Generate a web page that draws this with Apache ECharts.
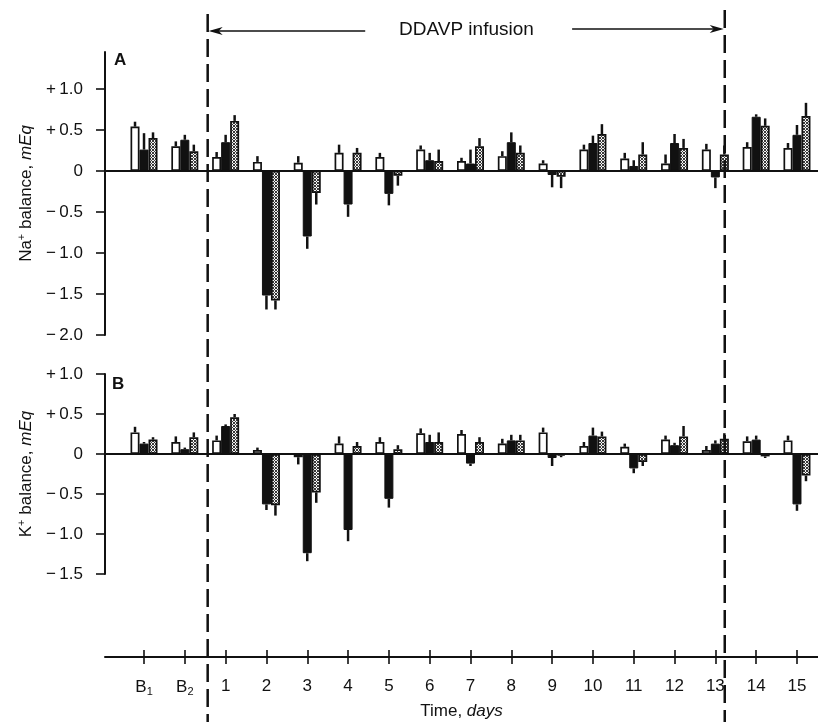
<!DOCTYPE html>
<html>
<head>
<meta charset="utf-8">
<script src="https://cdn.jsdelivr.net/npm/echarts@6/dist/echarts.min.js"></script>
<style>
html,body{margin:0;padding:0;background:#fff;}
#chart{width:818px;height:722px;}
</style>
</head>
<body>
<div id="chart"></div>
<script>
// ---------- data ----------
const categories = ['B1','B2','1','2','3','4','5','6','7','8','9','10','11','12','13','14','15'];

// Panel A: Na+ balance (mEq)
const naOpen      = [0.54, 0.30, 0.17, 0.11, 0.10, 0.22, 0.17, 0.26, 0.12, 0.18, 0.09, 0.26, 0.15, 0.09, 0.26, 0.29, 0.28];
const naOpenErr   = [0.06, 0.06, 0.06, 0.07, 0.08, 0.10, 0.05, 0.05, 0.04, 0.06, 0.04, 0.06, 0.07, 0.11, 0.07, 0.06, 0.06];
const naSolid     = [0.26, 0.38, 0.35, -1.52, -0.80, -0.41, -0.28, 0.13, 0.09, 0.35, -0.05, 0.34, 0.06, 0.34, -0.08, 0.66, 0.44];
const naSolidErr  = [0.20, 0.06, 0.09, 0.17, 0.15, 0.15, 0.14, 0.09, 0.17, 0.12, 0.15, 0.09, 0.07, 0.11, 0.13, 0.03, 0.12];
const naDotted    = [0.40, 0.24, 0.61, -1.58, -0.27, 0.22, -0.06, 0.12, 0.30, 0.22, -0.07, 0.45, 0.20, 0.28, 0.20, 0.55, 0.67];
const naDottedErr = [0.07, 0.08, 0.07, 0.11, 0.14, 0.06, 0.12, 0.14, 0.10, 0.09, 0.14, 0.12, 0.15, 0.11, 0.11, 0.09, 0.16];

// Panel B: K+ balance (mEq)
const kOpen      = [0.27, 0.15, 0.17, 0.05, -0.04, 0.13, 0.15, 0.26, 0.25, 0.13, 0.27, 0.10, 0.09, 0.18, 0.05, 0.16, 0.17];
const kOpenErr   = [0.07, 0.07, 0.06, 0.03, 0.09, 0.09, 0.06, 0.06, 0.05, 0.06, 0.06, 0.05, 0.04, 0.05, 0.05, 0.06, 0.06];
const kSolid     = [0.13, 0.06, 0.35, -0.63, -1.24, -0.95, -0.56, 0.15, -0.12, 0.17, -0.05, 0.23, -0.18, 0.11, 0.13, 0.18, -0.63];
const kSolidErr  = [0.02, 0.02, 0.02, 0.07, 0.10, 0.14, 0.11, 0.09, 0.03, 0.07, 0.10, 0.10, 0.06, 0.03, 0.04, 0.05, 0.08];
const kDotted    = [0.18, 0.21, 0.46, -0.64, -0.48, 0.10, 0.06, 0.15, 0.15, 0.17, -0.02, 0.22, -0.10, 0.22, 0.19, -0.03, -0.27];
const kDottedErr = [0.03, 0.06, 0.04, 0.13, 0.13, 0.05, 0.05, 0.12, 0.06, 0.07, 0.02, 0.06, 0.05, 0.13, 0.07, 0.02, 0.07];

// tick values
const naTicks = [-2, -1.5, -1, -0.5, 0, 0.5, 1];
const kTicks  = [-1.5, -1, -0.5, 0, 0.5, 1];
const dayTicks = categories.map((c, i) => i);

// DDAVP infusion period, in category units (B1 = 0)
const infusionStart = 1.56;
const infusionEnd = 14.23;
const arrowTailLeft = 5.42;
const arrowTailRight = 10.49;
const infusionLabelAt = 7.9;

// ---------- styles ----------
const FONT = '"Liberation Sans", Arial, Helvetica, sans-serif';
const INK = '#111';
const X_MIN = -0.956, X_MAX = 16.515;
const BAR_W = 9;

const pc = document.createElement('canvas');
pc.width = 3; pc.height = 3;
const g = pc.getContext('2d');
g.fillStyle = '#3a3a3a'; g.fillRect(0, 0, 3, 3);
g.fillStyle = '#f4f4f4';
[[0,1],[1,0],[1,2],[2,1]].forEach(p => g.fillRect(p[0], p[1], 1, 1));

const openStyle = {color: '#fff', borderColor: INK, borderWidth: 1.7};
const solidStyle = {color: INK, borderColor: INK, borderWidth: 1};
const dottedStyle = {color: {image: pc, repeat: 'repeat'}, borderColor: INK, borderWidth: 1.7};

function bars(ai, vals, style) {
  return {
    type: 'bar', xAxisIndex: ai, yAxisIndex: ai,
    data: vals.map((v, i) => [i, v]),
    barWidth: BAR_W, barGap: '0%', itemStyle: style, silent: true, z: 3
  };
}
function errs(ai, vals, e, offset) {
  return {
    type: 'custom', xAxisIndex: ai, yAxisIndex: ai, silent: true, z: 2,
    encode: {x: 0, y: 1},
    data: vals.map((v, i) => [i, v, e[i]]),
    renderItem: function (params, api) {
      const x = api.value(0), y = api.value(1), d = api.value(2);
      const p0 = api.coord([x, y]);
      const p1 = api.coord([x, y >= 0 ? y + d : y - d]);
      const px = p0[0] + offset;
      return {type: 'line', shape: {x1: px, y1: p0[1], x2: px, y2: p1[1]},
              style: {stroke: INK, lineWidth: 2.5}};
    }
  };
}
function signed(v) {
  if (v === 0) return '0';
  return (v > 0 ? '+' : '\u2212') + '\u2009' + Math.abs(v).toFixed(1);
}
function panelX(gi) {
  return {
    gridIndex: gi, type: 'value', min: X_MIN, max: X_MAX,
    axisLine: {show: true, onZero: true, lineStyle: {color: INK, width: 2}},
    axisTick: {show: false}, axisLabel: {show: false}, splitLine: {show: false}
  };
}
function panelY(gi, min, max, ticks, name) {
  return {
    gridIndex: gi, type: 'value', min: min, max: max,
    axisLine: {show: true, onZero: false, lineStyle: {color: INK, width: 2}},
    axisTick: {show: true, customValues: ticks, length: 9, lineStyle: {color: INK, width: 1.6}},
    axisLabel: {customValues: ticks, formatter: signed, margin: 22, fontSize: 17, color: INK, fontFamily: FONT},
    splitLine: {show: false},
    name: name, nameLocation: 'middle', nameRotate: 90, nameGap: 68,
    nameTextStyle: {fontSize: 17, color: INK, fontFamily: FONT,
      rich: {
        sup: {fontSize: 11, color: INK, fontFamily: FONT, padding: [0, 0, 9, 0]},
        it: {fontSize: 17, color: INK, fontFamily: FONT, fontStyle: 'italic'}
      }}
  };
}

const option = {
  animation: false,
  backgroundColor: '#fff',
  textStyle: {fontFamily: FONT, color: INK},
  grid: [
    {left: 105, right: 0, top: 52, height: 3.45 * 82},
    {left: 105, right: 0, top: 374, height: 200},
    {left: 105, right: 0, top: 600, height: 57}
  ],
  xAxis: [
    panelX(0),
    panelX(1),
    {
      gridIndex: 2, type: 'value', min: X_MIN, max: X_MAX, position: 'bottom',
      axisLine: {show: true, lineStyle: {color: INK, width: 2}},
      axisTick: {show: true, customValues: dayTicks, length: 7, lineStyle: {color: INK, width: 1.6}},
      axisLabel: {
        customValues: dayTicks, margin: 21, fontSize: 17, color: INK, fontFamily: FONT,
        formatter: function (v) {
          const c = categories[Math.round(v)];
          return c.charAt(0) === 'B' ? 'B{s|' + c.slice(1) + '}' : c;
        },
        rich: {s: {fontSize: 11, color: INK, fontFamily: FONT, padding: [8, 0, 0, 0]}}
      },
      splitLine: {show: false},
      name: 'Time, {it|days}', nameLocation: 'middle', nameGap: 46,
      nameTextStyle: {fontSize: 17, color: INK, fontFamily: FONT,
        rich: {it: {fontSize: 17, color: INK, fontFamily: FONT, fontStyle: 'italic'}}}
    },
    {
      gridIndex: 2, type: 'value', min: X_MIN, max: X_MAX, position: 'bottom',
      axisLine: {show: false},
      axisTick: {show: true, inside: true, customValues: dayTicks, length: 7, lineStyle: {color: INK, width: 1.6}},
      axisLabel: {show: false}, splitLine: {show: false}
    }
  ],
  yAxis: [
    panelY(0, -2, 1.45, naTicks, 'Na{sup|+} balance, {it|mEq}'),
    panelY(1, -1.5, 1.0, kTicks, 'K{sup|+} balance, {it|mEq}'),
    {gridIndex: 2, type: 'value', min: 0, max: 1, show: false}
  ],
  series: [
    bars(0, naOpen, openStyle), bars(0, naSolid, solidStyle), bars(0, naDotted, dottedStyle),
    errs(0, naOpen, naOpenErr, -BAR_W), errs(0, naSolid, naSolidErr, 0), errs(0, naDotted, naDottedErr, BAR_W),
    bars(1, kOpen, openStyle), bars(1, kSolid, solidStyle), bars(1, kDotted, dottedStyle),
    errs(1, kOpen, kOpenErr, -BAR_W), errs(1, kSolid, kSolidErr, 0), errs(1, kDotted, kDottedErr, BAR_W)
  ]
};

const chart = echarts.init(document.getElementById('chart'), null, {renderer: 'canvas'});
chart.setOption(option);

// annotations positioned through the x axis scale
const px = v => chart.convertToPixel({xAxisIndex: 0}, v);
const xs = px(infusionStart), xe = px(infusionEnd);
const ay = 31;
chart.setOption({
  graphic: [
    {type: 'line', z: 100, shape: {x1: xs, y1: 14, x2: xs, y2: 722}, style: {stroke: INK, lineWidth: 2.5, lineDash: [18, 7]}},
    {type: 'line', z: 100, shape: {x1: xe, y1: 10, x2: xe, y2: 722}, style: {stroke: INK, lineWidth: 2.5, lineDash: [18, 7]}},
    {type: 'line', z: 100, shape: {x1: xs + 4, y1: ay, x2: px(arrowTailLeft), y2: ay}, style: {stroke: INK, lineWidth: 1.5}},
    {type: 'polygon', z: 100, shape: {points: [[xs + 1, ay], [xs + 15, ay - 4], [xs + 11, ay], [xs + 15, ay + 4]]}, style: {fill: INK}},
    {type: 'line', z: 100, shape: {x1: px(arrowTailRight), y1: ay - 2, x2: xe - 4, y2: ay - 2}, style: {stroke: INK, lineWidth: 1.5}},
    {type: 'polygon', z: 100, shape: {points: [[xe - 1, ay - 2], [xe - 15, ay - 6], [xe - 11, ay - 2], [xe - 15, ay + 2]]}, style: {fill: INK}},
    {type: 'text', z: 100, x: px(infusionLabelAt), y: ay - 1,
      style: {text: 'DDAVP infusion', fontSize: 19, fontFamily: FONT, fill: INK, align: 'center', verticalAlign: 'middle'}},
    {type: 'text', z: 100, x: 114, y: 52,
      style: {text: 'A', fontSize: 17, fontWeight: 'bold', fontFamily: FONT, fill: INK, align: 'left', verticalAlign: 'top'}},
    {type: 'text', z: 100, x: 112, y: 376,
      style: {text: 'B', fontSize: 17, fontWeight: 'bold', fontFamily: FONT, fill: INK, align: 'left', verticalAlign: 'top'}}
  ]
});
</script>
</body>
</html>
